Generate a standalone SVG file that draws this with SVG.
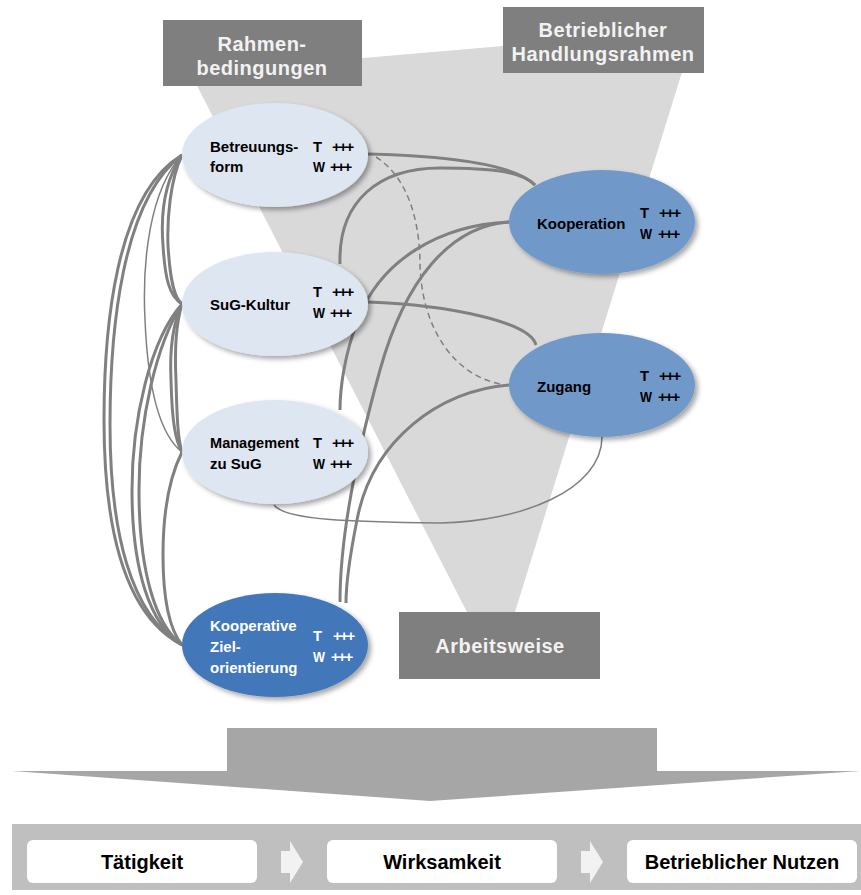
<svg xmlns="http://www.w3.org/2000/svg" width="861" height="895" viewBox="0 0 861 895">
<defs>
<filter id="sh" x="-20%" y="-20%" width="140%" height="150%">
<feDropShadow dx="3" dy="3" stdDeviation="2.5" flood-color="#000" flood-opacity="0.35"/>
</filter>
<style>
text{font-family:"Liberation Sans",Arial,sans-serif;font-weight:bold}
.hdr{fill:#7F7F7F}
.hdrt{fill:#F2F2F2;font-size:20px;letter-spacing:0.5px;text-anchor:middle}
.n{font-size:15px;fill:#000}
.nw{font-size:15px;fill:#FFF}
.pl{letter-spacing:-2px}
.light{fill:#DEE6F1;filter:url(#sh)}
.mid{fill:#7099CA;filter:url(#sh)}
.dark{fill:#4377B9;filter:url(#sh)}
.c{fill:none;stroke:#808080;stroke-width:3}
.ct{fill:none;stroke:#808080;stroke-width:1.5}
.cd{fill:none;stroke:#808080;stroke-width:1.5;stroke-dasharray:6 4}
.box{fill:#FFF}
.bt{font-size:20px;fill:#000;text-anchor:middle}
.chev{fill:#F2F2F2}
</style>
</defs>
<rect width="861" height="895" fill="#FFF"/>
<!-- funnel -->
<polygon points="190,72 363,58 503,46 695,30 515,612 467,612" fill="#D9D9D9"/>
<!-- header boxes -->
<g id="rahmen">
<rect class="hdr" x="163" y="20" width="199" height="66"/>
<text class="hdrt" x="262" y="51">Rahmen-</text>
<text class="hdrt" x="262" y="75">bedingungen</text>
</g>
<g id="handlungsrahmen">
<rect class="hdr" x="503" y="7" width="201" height="66"/>
<text class="hdrt" x="603" y="37">Betrieblicher</text>
<text class="hdrt" x="603" y="61">Handlungsrahmen</text>
</g>
<g id="arbeitsweise">
<rect class="hdr" x="399" y="612" width="201" height="67"/>
<text class="hdrt" x="500" y="653">Arbeitsweise</text>
</g>
<!-- connectors -->
<g id="connectors">
<path class="c" d="M182,155 C115,195 104,330 104,420 C104,530 125,615 182,645"/>
<path class="c" d="M182,155 C122,200 110,330 110,425 C110,530 130,615 182,645"/>
<path class="ct" d="M182,155 C150,190 142,260 145,320 C148,390 160,435 182,452"/>
<path class="c" d="M182,155 C162,185 161,220 163,245 C165,278 169,296 182,304"/>
<path class="c" d="M182,155 C170,180 167,220 168,245 C170,280 174,298 182,304"/>
<path class="c" d="M182,304 C170,330 170,360 171,380 C172,420 175,440 182,452"/>
<path class="c" d="M182,304 C174,330 175,360 176,380 C177,420 178,440 182,452"/>
<path class="c" d="M182,304 C150,340 132,420 132,490 C132,570 150,625 182,645"/>
<path class="c" d="M182,304 C156,345 139,420 139,490 C139,570 155,625 182,645"/>
<path class="c" d="M182,452 C168,480 163,520 163,555 C163,600 170,630 182,645"/>
<path class="c" d="M368,154 C450,156 515,165 535,185"/>
<path class="c" d="M340,264 C338,200 380,168 440,168 C495,168 522,172 535,185"/>
<path class="cd" d="M376,157 C412,180 420,230 420,265 C422,330 455,375 500,384"/>
<path class="c" d="M368,302 C450,305 530,322 536,345"/>
<path class="c" d="M509,222 C440,225 380,260 358,320 C344,355 340,390 340,410"/>
<path class="c" d="M509,222 C450,226 405,280 380,370 C355,460 340,540 340,602"/>
<path class="c" d="M509,385 C440,390 372,440 357,520 C349,560 346,585 346,603"/>
<path class="ct" d="M274,505 C285,520 350,522 440,523 C520,522 602,490 602,437"/>
</g>
<!-- nodes -->
<g id="betreuungsform">
<ellipse class="light" cx="275" cy="155" rx="93" ry="52"/>
<text class="n" x="210" y="152">Betreuungs-</text>
<text class="n" x="210" y="172">form</text>
<text class="n" x="313" y="152" textLength="9" lengthAdjust="spacingAndGlyphs">T</text><text class="n pl" x="332" y="152">+++</text>
<text class="n" x="313" y="172" textLength="12" lengthAdjust="spacingAndGlyphs">W</text><text class="n pl" x="330" y="172">+++</text>
</g>
<g id="sug-kultur">
<ellipse class="light" cx="275" cy="304" rx="93" ry="52"/>
<text class="n" x="210" y="310">SuG-Kultur</text>
<text class="n" x="313" y="297" textLength="9" lengthAdjust="spacingAndGlyphs">T</text><text class="n pl" x="332" y="297">+++</text>
<text class="n" x="313" y="318" textLength="12" lengthAdjust="spacingAndGlyphs">W</text><text class="n pl" x="330" y="318">+++</text>
</g>
<g id="management">
<ellipse class="light" cx="275" cy="452" rx="93" ry="52"/>
<text class="n" x="210" y="448" textLength="89" lengthAdjust="spacingAndGlyphs">Management</text>
<text class="n" x="210" y="469">zu SuG</text>
<text class="n" x="313" y="448" textLength="9" lengthAdjust="spacingAndGlyphs">T</text><text class="n pl" x="332" y="448">+++</text>
<text class="n" x="313" y="469" textLength="12" lengthAdjust="spacingAndGlyphs">W</text><text class="n pl" x="330" y="469">+++</text>
</g>
<g id="kooperative-zielorientierung">
<ellipse class="dark" cx="275" cy="645" rx="93" ry="52"/>
<text class="nw" x="210" y="631">Kooperative</text>
<text class="nw" x="210" y="652">Ziel-</text>
<text class="nw" x="210" y="673">orientierung</text>
<text class="nw" x="313" y="641" textLength="9" lengthAdjust="spacingAndGlyphs">T</text><text class="nw pl" x="333" y="641">+++</text>
<text class="nw" x="313" y="662" textLength="12" lengthAdjust="spacingAndGlyphs">W</text><text class="nw pl" x="331" y="662">+++</text>
</g>
<g id="kooperation">
<ellipse class="mid" cx="602" cy="222" rx="93" ry="52"/>
<text class="n" x="537" y="229">Kooperation</text>
<text class="n" x="640" y="218" textLength="9" lengthAdjust="spacingAndGlyphs">T</text><text class="n pl" x="659" y="218">+++</text>
<text class="n" x="640" y="239" textLength="12" lengthAdjust="spacingAndGlyphs">W</text><text class="n pl" x="658" y="239">+++</text>
</g>
<g id="zugang">
<ellipse class="mid" cx="602" cy="385" rx="93" ry="52"/>
<text class="n" x="537" y="392">Zugang</text>
<text class="n" x="640" y="381" textLength="9" lengthAdjust="spacingAndGlyphs">T</text><text class="n pl" x="659" y="381">+++</text>
<text class="n" x="640" y="402" textLength="12" lengthAdjust="spacingAndGlyphs">W</text><text class="n pl" x="658" y="402">+++</text>
</g>
<!-- big arrow -->
<polygon points="227,728 657,728 657,771 860,771 430,801 12,771 227,771" fill="#A6A6A6"/>
<!-- bottom band -->
<rect x="12" y="824" width="849" height="66" fill="#BFBFBF"/>
<g id="taetigkeit">
<rect class="box" x="27" y="840" width="230" height="43" rx="6"/>
<text class="bt" x="142" y="869">Tätigkeit</text>
</g>
<polygon class="chev" points="281,851 290,851 290,841 303,862 290,883 290,873 281,873"/>
<g id="wirksamkeit">
<rect class="box" x="327" y="840" width="230" height="43" rx="6"/>
<text class="bt" x="442" y="869">Wirksamkeit</text>
</g>
<polygon class="chev" points="581,851 590,851 590,841 603,862 590,883 590,873 581,873"/>
<g id="nutzen">
<rect class="box" x="627" y="840" width="230" height="43" rx="6"/>
<text class="bt" x="742" y="869">Betrieblicher Nutzen</text>
</g>
</svg>
